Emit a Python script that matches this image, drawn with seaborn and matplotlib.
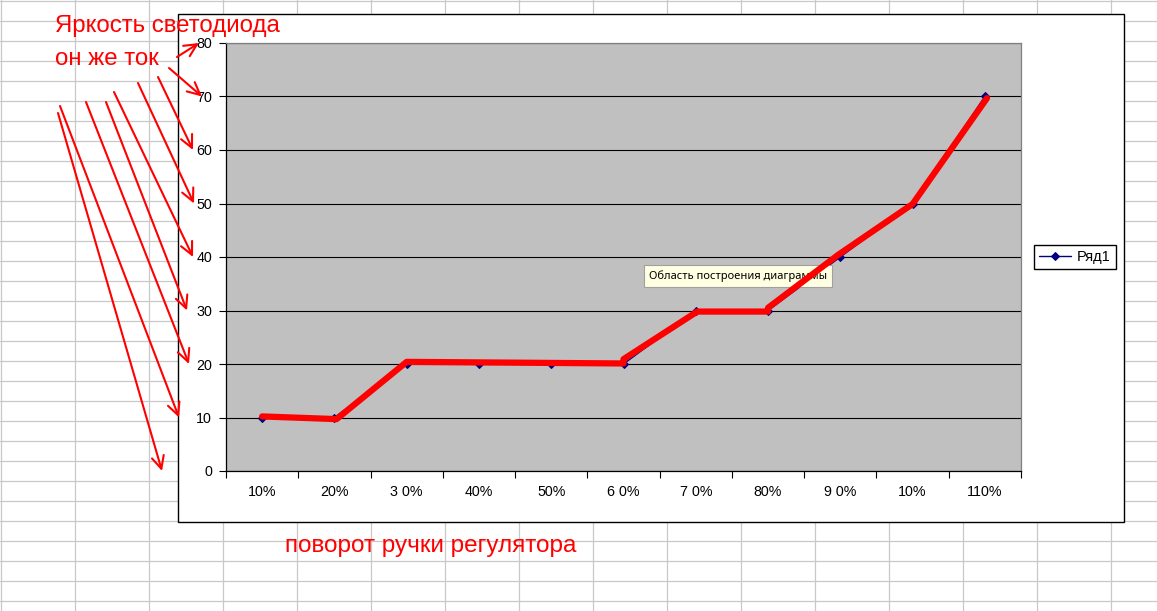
import matplotlib
matplotlib.use("Agg")
import matplotlib.pyplot as plt
from matplotlib.patches import Rectangle
import numpy as np
import pandas as pd
import seaborn as sns

# Excel series "Ряд1"
categories = ["10%", "20%", "3 0%", "40%", "50%", "6 0%", "7 0%", "80%", "9 0%", "10%", "110%"]
values = [10, 10, 20, 20, 20, 20, 30, 30, 40, 50, 70]

# hand-drawn red line over the series (category position, value)
red_pos = [0.0, 1.03, 2.0, 5.0, 5.0, 6.02, 7.0, 7.0, 7.97, 9.0, 10.03]
red_val = [10.2, 9.7, 20.4, 20.1, 20.9, 29.8, 29.8, 30.5, 40.4, 49.9, 69.7]

# hand-drawn arrows: start point (screen px) -> tick value
arrow_start = [(177, 57), (169, 68), (158, 77), (138, 83), (114, 92),
               (106, 102), (86, 102), (60, 106), (58, 113)]
arrow_end_x = [199, 202, 193, 194, 193, 187, 189, 179, 162]
arrow_value = [80, 70, 60, 50, 40, 30, 20, 10, 0]

W, H = 1157, 611

sns.set_style("white")
plt.rcParams["font.family"] = ["Liberation Sans", "DejaVu Sans"]
plt.rcParams["text.color"] = "black"


def box(l, t, r, b):
    return [l / W, 1 - b / H, (r - l) / W, (b - t) / H]


fig = plt.figure(figsize=(W / 100, H / 100), dpi=100)

# spreadsheet background
bg = fig.add_axes([0, 0, 1, 1], zorder=0)
bg.set_xlim(0, W)
bg.set_ylim(H, 0)
bg.axis("off")
for x in np.arange(1.3, W, 74):
    bg.axvline(x, color="#C8C8C8", lw=0.9)
for y in np.arange(0.5, H, 20):
    bg.axhline(y, color="#C8C8C8", lw=0.9)
bg.add_patch(Rectangle((178, 14), 946, 508, facecolor="white",
                       edgecolor="black", lw=1.0, zorder=3))

# chart plot area
ax = fig.add_axes(box(226, 43, 1021, 471), zorder=1)
df = pd.DataFrame({"pos": np.arange(len(values)), "value": values})
sns.lineplot(data=df, x="pos", y="value", ax=ax, color="#000080", lw=1,
             marker="D", markersize=4, markeredgecolor="#000080",
             label="Ряд1", zorder=3)
sns.lineplot(x=red_pos, y=red_val, ax=ax, color="#FF0000", lw=4.5,
             sort=False, estimator=None, legend=False, zorder=5)

ax.set_facecolor("#C0C0C0")
ax.set_xlim(-0.5, len(values) - 0.5)
ax.set_ylim(0, 80)
ax.set_xticks(np.arange(-0.5, len(values), 1))
ax.set_xticklabels([])
ax.set_xticks(np.arange(len(values)), minor=True)
ax.set_xticklabels(categories, minor=True)
ax.set_yticks(range(0, 81, 10))
ax.tick_params(axis="x", which="major", direction="out", length=5,
               width=0.8, color="black", bottom=True)
ax.tick_params(axis="x", which="minor", length=0, pad=10, labelsize=10.3,
               labelcolor="black")
ax.tick_params(axis="y", direction="out", length=5, width=0.8,
               color="black", pad=5, labelsize=10.3, left=True,
               labelcolor="black")
ax.set_xlabel("")
ax.set_ylabel("")
ax.yaxis.grid(True, color="black", lw=0.8)
ax.xaxis.grid(False)
ax.set_axisbelow(True)
for side in ["left", "bottom"]:
    ax.spines[side].set_color("black")
    ax.spines[side].set_linewidth(0.9)
for side in ["top", "right"]:
    ax.spines[side].set_color("#808080")
    ax.spines[side].set_linewidth(0.9)

leg = ax.legend(loc="center left", bbox_to_anchor=(1034 / W, 1 - 257 / H),
                bbox_transform=fig.transFigure, frameon=True, fancybox=False,
                edgecolor="black", framealpha=1, fontsize=10.5,
                handlelength=2.2, borderpad=0.35, borderaxespad=0,
                handletextpad=0.4, labelcolor="black")
leg.get_frame().set_linewidth(1.0)

# tooltip left on the screenshot
ax.text(649, 276, "Область построения диаграммы", transform=bg.transData,
        fontsize=8, family=["Noto Sans", "DejaVu Sans"], va="center",
        ha="left", zorder=4, color="black",
        bbox=dict(boxstyle="square,pad=0.45", fc="#FFFFE1", ec="#A0A0A0", lw=0.8))

# red hand-written annotations on top
ov = fig.add_axes([0, 0, 1, 1], zorder=2)
ov.set_xlim(0, W)
ov.set_ylim(H, 0)
ov.axis("off")
ov.patch.set_alpha(0)
ov.text(55, 26, "Яркость светодиода", color="#FF0000", fontsize=17.3,
        va="center", ha="left")
ov.text(55, 59, "он же ток", color="#FF0000", fontsize=17.3,
        va="center", ha="left")
ov.text(431, 546, "поворот ручки регулятора", color="#FF0000", fontsize=17.5,
        va="center", ha="center")
for (sx, sy), ex, v in zip(arrow_start, arrow_end_x, arrow_value):
    ov.annotate("", xy=(ex, v), xycoords=(ov.transData, ax.transData),
                xytext=(sx, sy), textcoords="data", annotation_clip=False,
                arrowprops=dict(arrowstyle="->,head_length=0.45,head_width=0.22",
                                color="#FF0000", lw=1.5, shrinkA=0, shrinkB=0,
                                mutation_scale=20))

fig.savefig("out.png", dpi=100)
